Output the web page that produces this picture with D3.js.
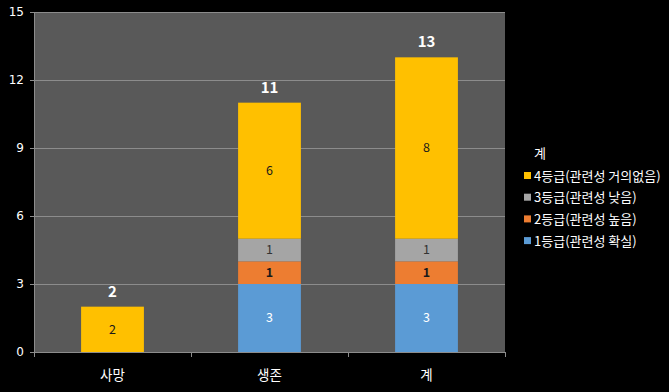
<!DOCTYPE html>
<html>
<head>
<meta charset="utf-8">
<script src="https://cdn.jsdelivr.net/npm/d3@7"></script>
<style>
  body { margin: 0; background: #000; }
  svg { display: block; font-family: "Noto Sans CJK KR", "Noto Sans", sans-serif; }
</style>
</head>
<body>
<div id="chart"></div>
<script>
// data
const categories = ["사망", "생존", "계"];
const seriesNames = ["1등급(관련성 확실)", "2등급(관련성 높음)", "3등급(관련성 낮음)", "4등급(관련성 거의없음)"];
const grade1 = [0, 3, 3];
const grade2 = [0, 1, 1];
const grade3 = [0, 1, 1];
const grade4 = [2, 6, 8];
const yTicks = [0, 3, 6, 9, 12, 15];

const colors = ["#5B9BD5", "#ED7D31", "#A5A5A5", "#FFC000"];
const labelColors = ["#ffffff", "#1a1a1a", "#333333", "#1a1a1a"];

const width = 669, height = 392;
const margin = {top: 12, right: 164, bottom: 40, left: 34};
const w = width - margin.left - margin.right,
      h = height - margin.top - margin.bottom;

const svg = d3.select("#chart").append("svg")
    .attr("width", width)
    .attr("height", height);
svg.append("rect").attr("width", width).attr("height", height).attr("fill", "#000");

const g = svg.append("g")
    .attr("transform", "translate(" + margin.left + "," + margin.top + ")");

const rows = categories.map((c, i) => ({
    cat: c,
    s0: grade1[i], s1: grade2[i], s2: grade3[i], s3: grade4[i]
}));
const keys = ["s0", "s1", "s2", "s3"];
const stacked = d3.stack().keys(keys)(rows);

const x = d3.scaleBand().domain(categories).range([0, w]).paddingInner(0.6).paddingOuter(0.3);
const y = d3.scaleLinear().domain([0, 15]).range([h, 0]);

// plot area
g.append("rect").attr("width", w).attr("height", h).attr("fill", "#595959");

// gridlines
g.append("g").selectAll("line")
    .data(yTicks.filter(t => t > 0))
    .join("line")
    .attr("x1", 0).attr("x2", w)
    .attr("y1", d => y(d) + 0.5).attr("y2", d => y(d) + 0.5)
    .attr("stroke", "#8c8c8c");

// y axis
const yAxis = g.append("g")
    .call(d3.axisLeft(y).tickValues(yTicks).tickSize(4).tickPadding(6));
yAxis.select(".domain").attr("stroke", "#8c8c8c");
yAxis.selectAll(".tick line").attr("stroke", "#8c8c8c");
yAxis.selectAll("text").attr("fill", "#ffffff").attr("font-size", 12)
    .attr("font-family", "DejaVu Sans, sans-serif");

// x axis
const xb = g.append("g").attr("transform", "translate(0," + h + ")");
xb.append("line").attr("x1", 0).attr("x2", w).attr("y1", 0.5).attr("y2", 0.5).attr("stroke", "#8c8c8c");
xb.selectAll(".sep")
    .data(d3.range(categories.length + 1))
    .join("line")
    .attr("class", "sep")
    .attr("x1", i => Math.round(i * w / categories.length) + 0.5)
    .attr("x2", i => Math.round(i * w / categories.length) + 0.5)
    .attr("y1", 0).attr("y2", 5)
    .attr("stroke", "#8c8c8c");
xb.selectAll("text")
    .data(categories)
    .join("text")
    .attr("x", d => x(d) + x.bandwidth() / 2)
    .attr("y", 28)
    .attr("text-anchor", "middle")
    .attr("fill", "#ffffff")
    .attr("font-size", 13.5)
    .text(d => d);

// bars
const layers = g.append("g").selectAll("g")
    .data(stacked)
    .join("g")
    .attr("fill", (d, i) => colors[i]);

layers.selectAll("rect")
    .data(d => d.map(v => ({v: v, cat: v.data.cat})))
    .join("rect")
    .attr("x", d => x(d.cat))
    .attr("y", d => y(d.v[1]))
    .attr("width", x.bandwidth())
    .attr("height", d => y(d.v[0]) - y(d.v[1]));

// segment labels
stacked.forEach((layer, i) => {
    g.append("g").selectAll("text")
        .data(layer.filter(d => d[1] - d[0] > 0))
        .join("text")
        .attr("x", d => x(d.data.cat) + x.bandwidth() / 2)
        .attr("y", d => (y(d[0]) + y(d[1])) / 2)
        .attr("dy", "0.35em")
        .attr("text-anchor", "middle")
        .attr("fill", labelColors[i])
        .attr("font-size", 12.5)
        .attr("font-weight", i === 1 ? "bold" : "normal")
        .text(d => d[1] - d[0]);
});

// totals
g.append("g").selectAll("text")
    .data(rows)
    .join("text")
    .attr("x", d => x(d.cat) + x.bandwidth() / 2)
    .attr("y", d => y(d.s0 + d.s1 + d.s2 + d.s3) - 10)
    .attr("text-anchor", "middle")
    .attr("fill", "#ffffff")
    .attr("font-size", 15)
    .attr("font-weight", "bold")
    .text(d => d.s0 + d.s1 + d.s2 + d.s3);

// legend
const legend = svg.append("g").attr("transform", "translate(524,0)");
legend.append("text")
    .attr("x", 10).attr("y", 158)
    .attr("fill", "#ffffff")
    .attr("font-size", 13)
    .text("계");
const items = seriesNames.map((n, i) => ({name: n, color: colors[i]})).reverse();
const li = legend.selectAll(".item")
    .data(items)
    .join("g")
    .attr("class", "item")
    .attr("transform", (d, i) => "translate(0," + (176 + i * 21.7) + ")");
li.append("rect")
    .attr("x", 0).attr("y", -4).attr("width", 7).attr("height", 7)
    .attr("fill", d => d.color);
li.append("text")
    .attr("x", 10).attr("y", 0)
    .attr("dy", "0.35em")
    .attr("fill", "#ffffff")
    .attr("font-size", 13)
    .text(d => d.name);
</script>
</body>
</html>
